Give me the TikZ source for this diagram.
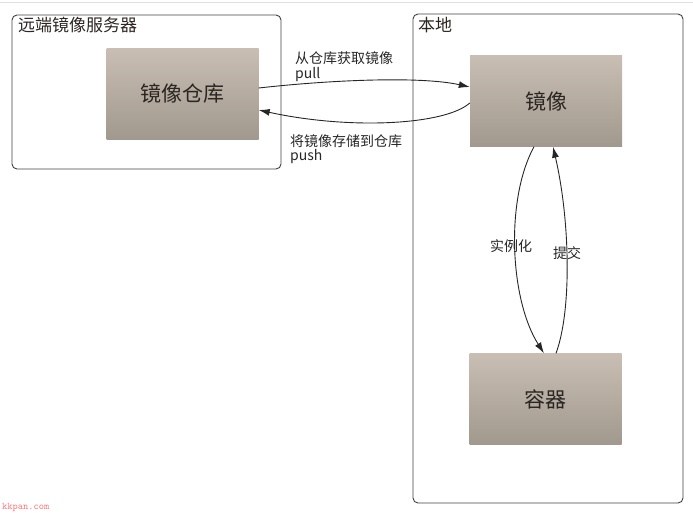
\documentclass[tikz,border=0pt]{standalone}
\usepackage{fontspec}
\newfontfamily\cjk{Noto Sans CJK SC}
\usetikzlibrary{arrows.meta}
\definecolor{boxtop}{HTML}{C8BEB4}
\definecolor{boxbot}{HTML}{A1988E}
\definecolor{inktxt}{HTML}{2B2622}
\tikzset{
	area/.style={draw=black!75, line width=0.9pt, rounded corners=5pt},
	stage/.style={shading=axis, top color=boxtop, bottom color=boxbot, minimum width=152pt, minimum height=91pt, inner sep=0pt, font=\cjk\fontsize{21}{21}\selectfont, text=inktxt},
	flow/.style={-{Latex[length=11pt,width=7pt]}, line width=0.9pt, black!85},
	title/.style={font=\cjk\fontsize{17}{17}\selectfont, anchor=base west, inner sep=0pt, text=inktxt},
	note/.style={font=\cjk\fontsize{14}{14}\selectfont, anchor=base west, inner sep=0pt, text=black!85},
}
\begin{document}
\begin{tikzpicture}[x=1pt, y=-1pt]
		
		\useasboundingbox (0, 0) rectangle (693, 512);
		\draw [black!12] (0, 2) -- (693, 2);
		
		\draw [area] (12, 15) rectangle (281, 169);
		\draw [area] (413, 14) rectangle (683, 503);
		\node [title] (remote) at (18, 31) {远端镜像服务器};
		\node [title] (local) at (418, 31) {本地};
		
		\node [stage] (repo) at (182.5, 93.5) {镜像仓库};
		\node [stage] (image) at (546, 101) {镜像};
		\node [stage] (container) at (545.5, 399) {容器};
		
		\node [note] (pulltxt) at (295, 63) {从仓库获取镜像};
		\node [note] (pullword) at (295, 78) {pull};
		\node [note] (pushtxt) at (290, 146) {将镜像存储到仓库};
		\node [note] (pushword) at (290, 160) {push};
		\node [note] (runtxt) at (490, 251) {实例化};
		\node [note] (committxt) at (553, 258) {提交};
		
		\draw [flow] ([yshift=5.5pt]repo.east) .. controls (330, 80) and (420, 76) .. ([yshift=14pt]image.west);
		\draw [flow] ([yshift=-2pt]image.west) .. controls (445, 125) and (350, 130) .. ([yshift=-16.5pt]repo.east);
		\draw [flow] ([xshift=-12pt]image.south) .. controls (505, 200) and (510, 300) .. ([xshift=-1.5pt]container.north);
		\draw [flow] ([xshift=10.5pt]container.north) .. controls (572, 310) and (570, 220) .. ([xshift=7pt]image.south);
		
		\node [anchor=base west, inner sep=0pt, text=red!55, font=\ttfamily\fontsize{10}{10}\selectfont] (wmk) at (2, 509) {kkpan.com};
		
\end{tikzpicture}
\end{document}
